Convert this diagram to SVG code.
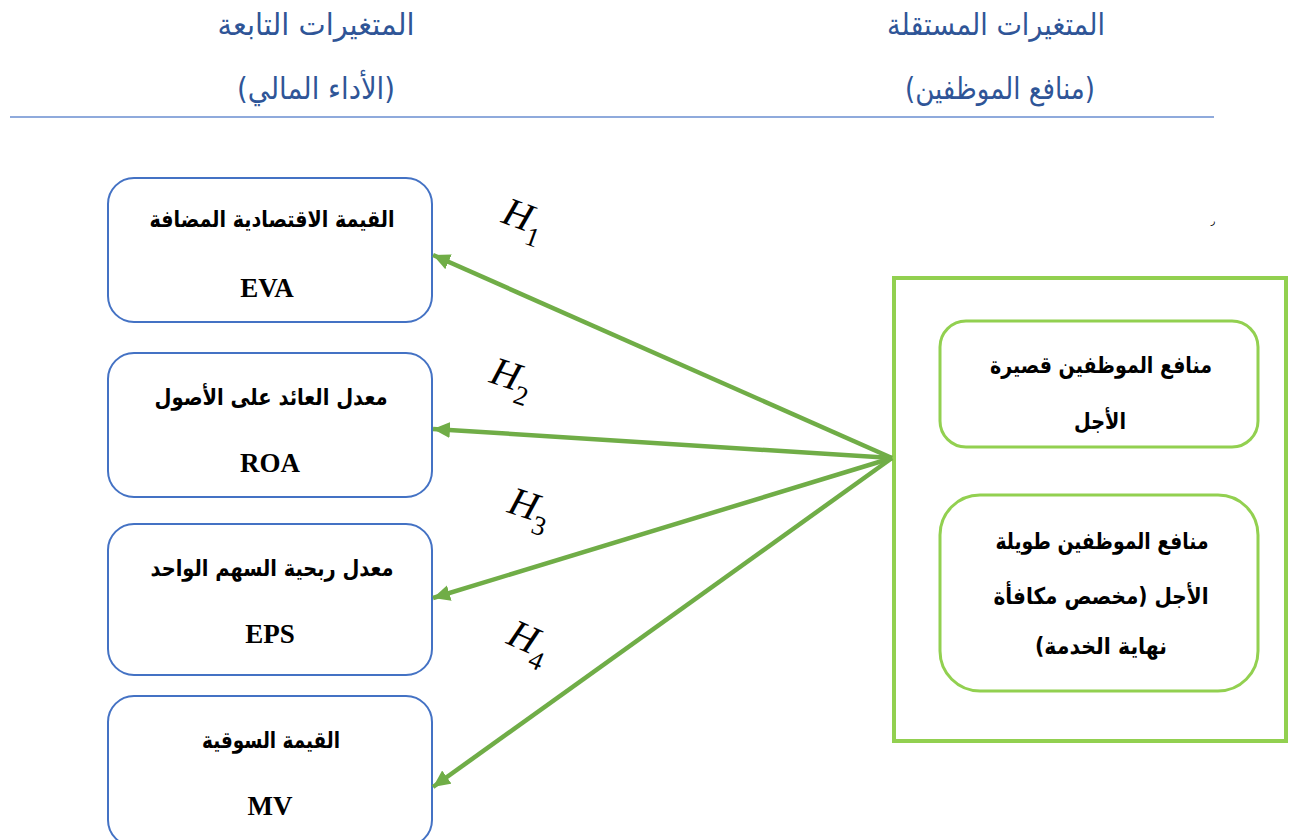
<svg xmlns="http://www.w3.org/2000/svg" width="1298" height="840" viewBox="0 0 1298 840">
<style>
.hdr{font-family:"DejaVu Sans","Liberation Sans",sans-serif;font-size:30px;fill:#2F5597;text-anchor:middle}
.ar{font-family:"DejaVu Sans","Liberation Sans",sans-serif;font-weight:bold;font-size:23px;fill:#000;text-anchor:middle}
.lat{font-family:"Liberation Serif",serif;font-weight:bold;font-size:27px;fill:#000;text-anchor:middle}
.dep{fill:#fff;stroke:#4472C4;stroke-width:2}
.ind{fill:#fff;stroke:#92D050;stroke-width:3}
.arrow{stroke:#70AD47;stroke-width:4.5;fill:none;marker-end:url(#ah)}
.h{font-family:"Liberation Serif",serif;font-style:italic;font-size:40px;fill:#000}
.sub{font-style:normal;font-size:27px}
</style>
<defs>
<marker id="ah" markerUnits="userSpaceOnUse" markerWidth="20" markerHeight="18" refX="17" refY="8" orient="auto">
<path d="M0,0 L17,8 L0,16 Z" fill="#70AD47"/>
</marker>
</defs>
<rect width="1298" height="840" fill="#fff"/>
<g id="header">
<text class="hdr" x="316" y="35" direction="rtl" textLength="197" lengthAdjust="spacingAndGlyphs">المتغيرات التابعة</text>
<text class="hdr" x="316" y="99" direction="rtl" textLength="158" lengthAdjust="spacingAndGlyphs">(الأداء المالي)</text>
<text class="hdr" x="996" y="35" direction="rtl" textLength="218" lengthAdjust="spacingAndGlyphs">المتغيرات المستقلة</text>
<text class="hdr" x="1000" y="99" direction="rtl" textLength="190" lengthAdjust="spacingAndGlyphs">(منافع الموظفين)</text>
<line x1="10" y1="117" x2="1214" y2="117" stroke="#8FAADC" stroke-width="2"/>
<text x="1211" y="224" font-family="DejaVu Sans,sans-serif" font-size="9" fill="#000">ر</text>
</g>
<g id="eva">
<rect class="dep" x="108" y="178" width="324" height="144" rx="26"/>
<text class="ar" x="272" y="227" direction="rtl" textLength="245" lengthAdjust="spacingAndGlyphs">القيمة الاقتصادية المضافة</text>
<text class="lat" x="267" y="297">EVA</text>
</g>
<g id="roa">
<rect class="dep" x="108" y="353" width="324" height="144" rx="26"/>
<text class="ar" x="271" y="405" direction="rtl" textLength="233" lengthAdjust="spacingAndGlyphs">معدل العائد على الأصول</text>
<text class="lat" x="270" y="472">ROA</text>
</g>
<g id="eps">
<rect class="dep" x="108" y="524" width="324" height="151" rx="26"/>
<text class="ar" x="272" y="576" direction="rtl" textLength="243" lengthAdjust="spacingAndGlyphs">معدل ربحية السهم الواحد</text>
<text class="lat" x="270" y="643">EPS</text>
</g>
<g id="mv">
<rect class="dep" x="108" y="696" width="324" height="150" rx="26"/>
<text class="ar" x="271" y="748" direction="rtl" textLength="138" lengthAdjust="spacingAndGlyphs">القيمة السوقية</text>
<text class="lat" x="270" y="815">MV</text>
</g>
<g id="independent">
<rect x="894" y="278" width="392" height="463" fill="#fff" stroke="#92D050" stroke-width="4"/>
</g>
<g id="short-term">
<rect class="ind" x="940" y="321" width="318" height="126" rx="26"/>
<text class="ar" x="1101" y="373" direction="rtl" textLength="222" lengthAdjust="spacingAndGlyphs">منافع الموظفين قصيرة</text>
<text class="ar" x="1100" y="429" direction="rtl" textLength="52" lengthAdjust="spacingAndGlyphs">الأجل</text>
</g>
<g id="long-term">
<rect class="ind" x="940" y="495" width="318" height="196" rx="40"/>
<text class="ar" x="1102" y="549" direction="rtl" textLength="213" lengthAdjust="spacingAndGlyphs">منافع الموظفين طويلة</text>
<text class="ar" x="1101" y="604" direction="rtl" textLength="215" lengthAdjust="spacingAndGlyphs">الأجل (مخصص مكافأة</text>
<text class="ar" x="1101" y="654" direction="rtl" textLength="132" lengthAdjust="spacingAndGlyphs">نهاية الخدمة)</text>
</g>
<g id="connectors">
<line class="arrow" x1="892" y1="458" x2="433" y2="255"/>
<line class="arrow" x1="892" y1="458" x2="433" y2="429"/>
<line class="arrow" x1="892" y1="458" x2="433" y2="598"/>
<line class="arrow" x1="892" y1="458" x2="433" y2="787"/>
</g>
<g id="labels">
<text class="h" transform="translate(500,222) rotate(20)">H<tspan class="sub" dx="0" dy="12">1</tspan></text>
<text class="h" transform="translate(488,382) rotate(18)">H<tspan class="sub" dx="0" dy="12">2</tspan></text>
<text class="h" transform="translate(506,512) rotate(18)">H<tspan class="sub" dx="0" dy="12">3</tspan></text>
<text class="h" transform="translate(505,643) rotate(24)">H<tspan class="sub" dx="0" dy="12">4</tspan></text>
</g>
</svg>
